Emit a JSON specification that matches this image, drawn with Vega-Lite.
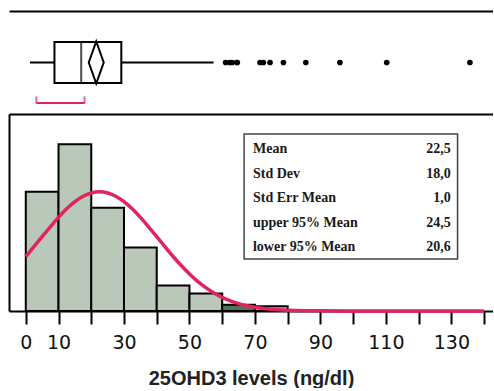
{
  "$schema": "https://vega.github.io/schema/vega-lite/v6.json",
  "padding": {"left": 9, "top": 11, "right": 0, "bottom": 0},
  "spacing": 0,
  "config": {
    "view": {"stroke": null},
    "axis": {"grid": false, "domainColor": "black", "domainWidth": 2}
  },
  "vconcat": [
    {
      "width": 484,
      "height": 103,
      "layer": [
        {
          "data": {"values": [{"min": 2.7, "q1": 10, "median": 18, "q3": 30, "max": 57.6, "mean": 22.5, "shorth_lo": 4.6, "shorth_hi": 19}]},
          "layer": [
            {
              "mark": {"type": "rule", "color": "black", "strokeWidth": 2},
              "encoding": {
                "x": {"field": "min", "type": "quantitative", "scale": {"domain": [-3.6, 141.2], "nice": false, "zero": false},
                      "axis": {"orient": "top", "title": null, "labels": false, "ticks": false}},
                "x2": {"field": "max"},
                "y": {"datum": 0, "type": "quantitative", "scale": {"domain": [-1, 1]},
                      "axis": {"title": null, "labels": false, "ticks": false}}
              }
            },
            {
              "mark": {"type": "bar", "height": 41, "fill": "white", "stroke": "black", "strokeWidth": 2},
              "encoding": {
                "x": {"field": "q1", "type": "quantitative"},
                "x2": {"field": "q3"},
                "y": {"datum": 0, "type": "quantitative"}
              }
            },
            {
              "mark": {"type": "tick", "orient": "vertical", "size": 41, "thickness": 2, "color": "black"},
              "encoding": {
                "x": {"field": "median", "type": "quantitative"},
                "y": {"datum": 0, "type": "quantitative"}
              }
            },
            {
              "mark": {"type": "point", "shape": "M0,-1L0.357,0L0,1L-0.357,0Z", "size": 1764, "filled": false, "stroke": "black", "strokeWidth": 2, "opacity": 1},
              "encoding": {
                "x": {"field": "mean", "type": "quantitative"},
                "y": {"datum": 0, "type": "quantitative"}
              }
            },
            {
              "mark": {"type": "rule", "color": "#e0245e", "strokeWidth": 2, "yOffset": 40.5},
              "encoding": {
                "x": {"field": "shorth_lo", "type": "quantitative"},
                "x2": {"field": "shorth_hi"},
                "y": {"datum": 0, "type": "quantitative"}
              }
            },
            {
              "mark": {"type": "tick", "orient": "vertical", "size": 7, "thickness": 2, "color": "#e0245e", "yOffset": 37.5},
              "encoding": {
                "x": {"field": "shorth_lo", "type": "quantitative"},
                "y": {"datum": 0, "type": "quantitative"}
              }
            },
            {
              "mark": {"type": "tick", "orient": "vertical", "size": 7, "thickness": 2, "color": "#e0245e", "yOffset": 37.5},
              "encoding": {
                "x": {"field": "shorth_hi", "type": "quantitative"},
                "y": {"datum": 0, "type": "quantitative"}
              }
            }
          ]
        },
        {
          "data": {"values": [
            {"value": 61.2}, {"value": 62.4}, {"value": 63.1}, {"value": 64.7}, {"value": 64.5},
            {"value": 71.5}, {"value": 72.5}, {"value": 74.5}, {"value": 78.5}, {"value": 85.2},
            {"value": 95.4}, {"value": 109.4}, {"value": 134.3}
          ]},
          "mark": {"type": "point", "filled": true, "color": "black", "size": 32, "opacity": 1},
          "encoding": {
            "x": {"field": "value", "type": "quantitative", "scale": {"domain": [-3.6, 141.2], "nice": false, "zero": false},
                  "axis": {"orient": "bottom", "title": null, "labels": false, "ticks": false}},
            "y": {"datum": 0, "type": "quantitative", "scale": {"domain": [-1, 1]}, "axis": null}
          }
        }
      ],
      "resolve": {"axis": {"x": "independent"}}
    },
    {
      "width": 484,
      "height": 197,
      "encoding": {
        "x": {"type": "quantitative", "scale": {"domain": [-3.6, 141.2], "nice": false, "zero": false},
              "title": "25OHD3 levels (ng/dl)",
              "axis": {
                "title": "25OHD3 levels (ng/dl)",
                "values": [0, 10, 20, 30, 40, 50, 60, 70, 80, 90, 100, 110, 120, 130, 140],
                "labelExpr": "(datum.value == 0 || datum.value % 20 == 10) ? datum.label : ''",
                "labelFont": "DejaVu Sans", "labelFontSize": 19, "labelColor": "#111",
                "labelPadding": 9, "labelFlush": false, "labelOverlap": false, "labelBound": false,
                "tickSize": 13, "tickWidth": 2, "tickColor": "black",
                "titleFont": "Liberation Sans", "titleFontWeight": "bold", "titleFontSize": 20, "titleColor": "#222",
                "titlePadding": 16
              }}
      },
      "layer": [
        {
          "data": {"values": [
            {"bin_start": 0, "bin_end": 10, "count": 75},
            {"bin_start": 10, "bin_end": 20, "count": 105},
            {"bin_start": 20, "bin_end": 30, "count": 65},
            {"bin_start": 30, "bin_end": 40, "count": 40},
            {"bin_start": 40, "bin_end": 50, "count": 16},
            {"bin_start": 50, "bin_end": 60, "count": 11},
            {"bin_start": 60, "bin_end": 70, "count": 4},
            {"bin_start": 70, "bin_end": 80, "count": 3}
          ]},
          "mark": {"type": "bar", "orient": "vertical", "stroke": "black", "strokeWidth": 2},
          "encoding": {
            "x": {"field": "bin_start"},
            "x2": {"field": "bin_end"},
            "y": {"field": "count", "type": "quantitative", "scale": {"domain": [0, 124]},
                  "axis": {"title": null, "labels": false, "ticks": false}},
            "color": {"condition": {"test": "datum.bin_start == 60", "value": "#52705a"}, "value": "#b9c8b9"}
          }
        },
        {
          "data": {"values": [
            {"v": 0, "fit": 34.3}, {"v": 2.5, "fit": 40.5}, {"v": 5, "fit": 46.8}, {"v": 7.5, "fit": 53.0},
            {"v": 10, "fit": 58.9}, {"v": 12.5, "fit": 64.3}, {"v": 15, "fit": 68.8}, {"v": 17.5, "fit": 72.2},
            {"v": 20, "fit": 74.3}, {"v": 22.5, "fit": 75.0}, {"v": 25, "fit": 74.3}, {"v": 27.5, "fit": 72.2},
            {"v": 30, "fit": 68.8}, {"v": 32.5, "fit": 64.3}, {"v": 35, "fit": 58.9}, {"v": 37.5, "fit": 53.0},
            {"v": 40, "fit": 46.8}, {"v": 42.5, "fit": 40.5}, {"v": 45, "fit": 34.3}, {"v": 47.5, "fit": 28.6},
            {"v": 50, "fit": 23.3}, {"v": 52.5, "fit": 18.7}, {"v": 55, "fit": 14.7}, {"v": 57.5, "fit": 11.3},
            {"v": 60, "fit": 8.6}, {"v": 62.5, "fit": 6.4}, {"v": 65, "fit": 4.6}, {"v": 67.5, "fit": 3.3},
            {"v": 70, "fit": 2.3}, {"v": 75, "fit": 1.1}, {"v": 80, "fit": 0.5}, {"v": 85, "fit": 0.2},
            {"v": 90, "fit": 0.1}, {"v": 100, "fit": 0}, {"v": 110, "fit": 0}, {"v": 120, "fit": 0},
            {"v": 130, "fit": 0}, {"v": 140, "fit": 0}
          ]},
          "mark": {"type": "line", "color": "#e0245e", "strokeWidth": 3.5, "interpolate": "monotone"},
          "encoding": {
            "x": {"field": "v"},
            "y": {"field": "fit", "type": "quantitative", "scale": {"domain": [0, 124]}, "axis": null}
          }
        },
        {
          "data": {"values": [
            {"row": 1, "stat": "Mean", "value": "22,5"},
            {"row": 2, "stat": "Std Dev", "value": "18,0"},
            {"row": 3, "stat": "Std Err Mean", "value": "1,0"},
            {"row": 4, "stat": "upper 95% Mean", "value": "24,5"},
            {"row": 5, "stat": "lower 95% Mean", "value": "20,6"}
          ]},
          "layer": [
            {
              "transform": [{"filter": "datum.row == 1"}],
              "mark": {"type": "rect", "fill": "white", "stroke": "#444", "strokeWidth": 1.5,
                       "x": {"expr": "scale('concat_1_x', 66.7)"}, "x2": {"expr": "scale('concat_1_x', 131.9)"}},
              "encoding": {
                "x": null,
                "y": {"datum": 0.386, "type": "quantitative", "scale": {"domain": [-0.43, 7.61], "reverse": true}, "axis": null},
                "y2": {"datum": 5.49}
              }
            },
            {
              "mark": {"type": "text", "align": "left", "baseline": "middle", "font": "Liberation Serif", "fontWeight": "bold", "fontSize": 14, "color": "#1a1a1a",
                       "x": {"expr": "scale('concat_1_x', 69.4)"}},
              "encoding": {
                "x": null,
                "y": {"field": "row", "type": "quantitative", "scale": {"domain": [-0.43, 7.61], "reverse": true}, "axis": null},
                "text": {"field": "stat"}
              }
            },
            {
              "mark": {"type": "text", "align": "right", "baseline": "middle", "font": "Liberation Serif", "fontWeight": "bold", "fontSize": 14, "color": "#1a1a1a",
                       "x": {"expr": "scale('concat_1_x', 129.8)"}},
              "encoding": {
                "x": null,
                "y": {"field": "row", "type": "quantitative", "scale": {"domain": [-0.43, 7.61], "reverse": true}, "axis": null},
                "text": {"field": "value"}
              }
            }
          ]
        }
      ],
      "resolve": {"scale": {"y": "independent"}}
    }
  ]
}
